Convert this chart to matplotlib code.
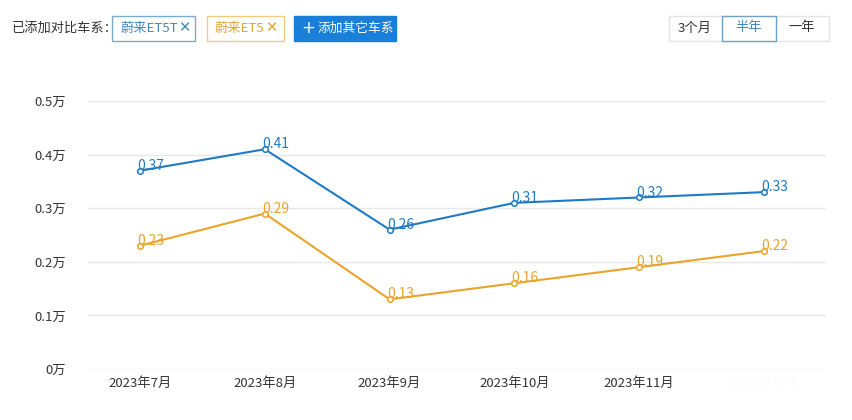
import matplotlib.pyplot as plt
from matplotlib.patches import Rectangle

plt.rcParams['font.family'] = ['Noto Sans CJK SC', 'DejaVu Sans']

months = ['2023年7月', '2023年8月', '2023年9月', '2023年10月', '2023年11月', '2023年12月']
et5t = [0.37, 0.41, 0.26, 0.31, 0.32, 0.33]
et5 = [0.23, 0.29, 0.13, 0.16, 0.19, 0.22]
yticks = [0, 0.1, 0.2, 0.3, 0.4, 0.5]
ylabels = ['0万', '0.1万', '0.2万', '0.3万', '0.4万', '0.5万']

blue = '#1f7ac4'
orange = '#eaa42a'

W, H = 852, 420
fig = plt.figure(figsize=(W / 100, H / 100), dpi=100)
ax = fig.add_axes([88 / W, 1 - 369 / H, (826 - 88) / W, (369 - 101) / H])

x = list(range(len(months)))
for vals, c in [(et5t, blue), (et5, orange)]:
    ax.plot(x, vals, color=c, linewidth=1.5, marker='o', markersize=4,
            markerfacecolor='white', markeredgecolor=c, markeredgewidth=1.1, zorder=3)
    for xi, v in zip(x, vals):
        ax.annotate(f'{v:.2f}', (xi, v), xytext=(-2, -1.5), textcoords='offset points',
                    ha='left', va='bottom', fontsize=10, color=c, zorder=4)

ax.set_ylim(0, 0.5)
ax.set_xlim(-52 / 124.8, 5 + 62 / 124.8)
ax.set_yticks(yticks)
ax.set_yticklabels(ylabels, fontsize=9.5, color='#333333')
ax.set_xticks(x)
ax.set_xticklabels(months, fontsize=9.5, color='#333333')
ax.get_xticklabels()[-1].set_color('#fbfbfb')
ax.tick_params(length=0, pad=6)
ax.tick_params(axis='y', pad=16)
ax.grid(axis='y', color='#e8e8e8', linewidth=1)
ax.set_axisbelow(True)
for s in ax.spines.values():
    s.set_visible(False)


def box(x0, y0, x1, y1, ec, fc='white', lw=1):
    fig.patches.append(Rectangle((x0 / W, 1 - y1 / H), (x1 - x0) / W, (y1 - y0) / H,
                                 transform=fig.transFigure, facecolor=fc, edgecolor=ec,
                                 linewidth=lw))


def txt(xp, yp, s, c, size=9.5, ha='left', **kw):
    fig.text(xp / W, 1 - yp / H, s, color=c, fontsize=size, ha=ha, va='center', **kw)


txt(12, 28, '已添加对比车系：', '#333333')
box(112, 16, 195, 41, '#7aaacb')
txt(121, 28, '蔚来ET5T', '#3f88bf')
txt(184, 28, '✕', '#3f88bf', size=10.5, ha='center', family='DejaVu Sans', weight='bold')
box(207, 16, 284, 41, '#f0cc80')
txt(215, 28, '蔚来ET5', '#e3a436')
txt(271, 28, '✕', '#e3a436', size=10.5, ha='center', family='DejaVu Sans', weight='bold')
box(294, 16, 396, 41, '#1a7fd8', fc='#1a7fd8')
txt(308, 28, '+', 'white', size=12, ha='center', family='DejaVu Sans')
txt(317, 28, '添加其它车系', 'white', size=9.2)

box(669, 16, 829, 41, '#e4e4e4')
box(722, 16, 776, 41, '#6f9fc2')
txt(695, 28, '3个月', '#333333', ha='center')
txt(749, 28, '半年', '#3f88bf', ha='center')
txt(802, 28, '一年', '#333333', ha='center')

fig.savefig('out.png', dpi=100)
